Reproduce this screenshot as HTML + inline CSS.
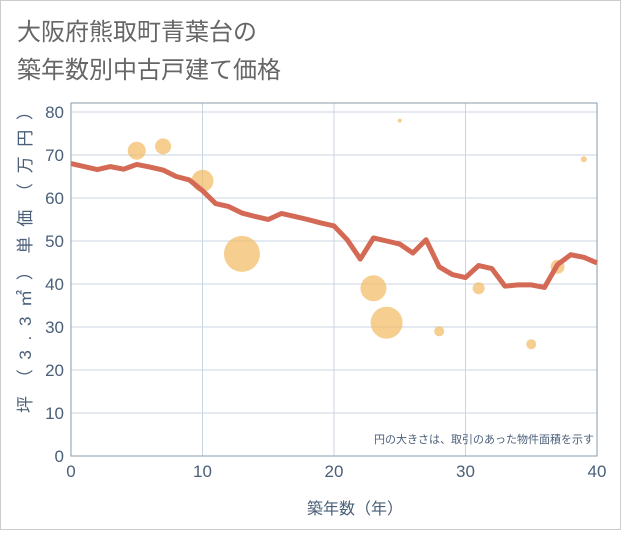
<!DOCTYPE html>
<html><head><meta charset="utf-8"><style>
body{margin:0;background:#fff;}
svg text{font-family:"Liberation Sans","Noto Sans CJK JP",sans-serif;}
</style></head><body>
<svg width="621" height="530" xmlns="http://www.w3.org/2000/svg">
<rect x="0.5" y="0.5" width="620" height="529" fill="#fff" stroke="#ccc"/>
<text x="17" y="40" font-size="24" fill="#666">大阪府熊取町青葉台の</text>
<text x="17" y="78" font-size="24" fill="#666">築年数別中古戸建て価格</text>
<g id="grid"></g>
<rect x="71" y="103" width="526" height="353" fill="none" stroke="#8a9aa8"/>
<g id="bubbles"></g>
<g id="line"></g>
<g id="ticks"></g>
<text x="594" y="443" font-size="11" fill="#4a5f78" text-anchor="end">円の大きさは、取引のあった物件面積を示す</text>
<text x="355" y="514" font-size="16" fill="#4a5f78" text-anchor="middle">築年数（年）</text>
<text transform="translate(31,258) rotate(-90)" font-size="17" fill="#4a5f78" text-anchor="middle" textLength="310" lengthAdjust="spacing">坪（3.3㎡）単価（万円）</text>
</svg>
<script>
const xTicks=[0,10,20,30,40];
const yTicks=[0,10,20,30,40,50,60,70,80];
const lineYears=[0,1,2,3,4,5,6,7,8,9,10,11,12,13,14,15,16,17,18,19,20,21,22,23,24,25,26,27,28,29,30,31,32,33,34,35,36,37,38,39,40];
const linePrices=[68,67.3,66.6,67.3,66.7,67.8,67.2,66.5,65,64.2,61.7,58.7,58,56.5,55.7,55,56.4,55.7,55,54.2,53.5,50.3,45.8,50.7,50,49.3,47.2,50.3,44,42.2,41.5,44.3,43.6,39.5,39.8,39.8,39.2,44.5,46.8,46.2,44.9];
const bubbleYears=[5,7,10,13,23,24,25,28,31,35,37,39];
const bubblePrices=[71,72,64,47,39,31,78,29,39,26,44,69];
const bubbleSizes=[9,8,11,18,13,16,2,5,6,5,7,3];
const NS="http://www.w3.org/2000/svg";
const X=v=>71+v*526/40, Y=v=>456-v*4.3;
function mk(t,a,p){const e=document.createElementNS(NS,t);for(const k in a)e.setAttribute(k,a[k]);p.appendChild(e);return e;}
const g=document.getElementById('grid'),tk=document.getElementById('ticks');
xTicks.forEach(v=>{const l=mk('line',{x1:X(v),x2:X(v),y1:103,y2:456,stroke:'#c8d4e0'},g);


const t=mk('text',{x:X(v),y:477,'font-size':17,fill:'#4a5f78','text-anchor':'middle'},tk);t.textContent=v;

});
yTicks.forEach(v=>{const l=mk('line',{x1:71,x2:597,y1:Y(v),y2:Y(v),stroke:'#c8d4e0'},g);


const t=mk('text',{x:64,y:Y(v)+6,'font-size':17,fill:'#4a5f78','text-anchor':'end'},tk);t.textContent=v;

});
const b=document.getElementById('bubbles');
bubbleYears.forEach((yr,i)=>{const c=mk('circle',{cx:X(yr),cy:Y(bubblePrices[i]),r:bubbleSizes[i],fill:'#f2bd6b','fill-opacity':0.75},b);

});
const pts=lineYears.map((yr,i)=>X(yr)+','+Y(linePrices[i])).join(' ');
const pl=mk('polyline',{points:pts,fill:'none',stroke:'#d46a55','stroke-width':5,'stroke-linejoin':'round'},document.getElementById('line'));


</script>
</body></html>
